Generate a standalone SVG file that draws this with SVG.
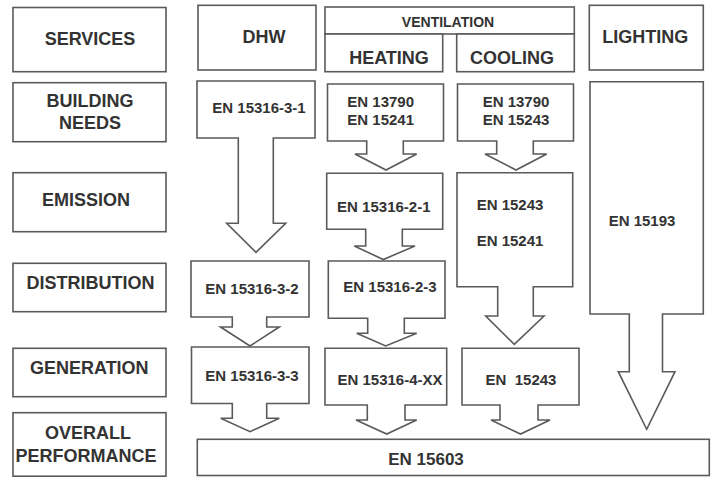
<svg xmlns="http://www.w3.org/2000/svg" width="715" height="477" viewBox="0 0 715 477">
<style>
.b{fill:#fff;stroke:#5a5a5a;stroke-width:1.6;stroke-linejoin:miter}
text{font-family:"Liberation Sans",Arial,sans-serif;font-weight:bold;fill:#333;text-anchor:middle}
.h{font-size:18px}
.e{font-size:15px}
.v{font-size:14px}
.p{font-size:17px}
</style>
<rect width="715" height="477" fill="#fff"/>
<g id="row-labels">
<g id="services"><rect class="b" x="13" y="7.5" width="153" height="64.2"/><text class="h" x="90" y="45">SERVICES</text></g>
<g id="building-needs"><rect class="b" x="13" y="82.7" width="153" height="59"/><text class="h" x="90" y="106.7">BUILDING</text><text class="h" x="90" y="129.3">NEEDS</text></g>
<g id="emission"><rect class="b" x="13" y="172.7" width="153" height="59"/><text class="h" x="86" y="205.7">EMISSION</text></g>
<g id="distribution"><rect class="b" x="13" y="263.3" width="153" height="48.4"/><text class="h" x="90.5" y="289.3">DISTRIBUTION</text></g>
<g id="generation"><rect class="b" x="13" y="348.3" width="153" height="48.4"/><text class="h" x="89.3" y="374.3">GENERATION</text></g>
<g id="overall-performance"><rect class="b" x="13" y="412.7" width="153" height="63.5"/><text class="h" x="88" y="439.3">OVERALL</text><text class="h" x="86" y="461.7">PERFORMANCE</text></g>
</g>
<g id="service-headers">
<g id="dhw"><rect class="b" x="198" y="5.3" width="118" height="64.7"/><text class="h" x="264" y="42.7">DHW</text></g>
<g id="ventilation"><rect class="b" x="325" y="7" width="249.3" height="27"/><text class="v" x="448" y="26.7">VENTILATION</text></g>
<g id="heating"><rect class="b" x="325" y="34" width="117.7" height="37.7"/><text class="h" x="389" y="63.5">HEATING</text></g>
<g id="cooling"><rect class="b" x="456.7" y="34" width="117.6" height="37.7"/><text class="h" x="512" y="63.5">COOLING</text></g>
<g id="lighting"><rect class="b" x="589.3" y="5.3" width="114" height="64.7"/><text class="h" x="645.3" y="42.7">LIGHTING</text></g>
</g>
<g id="dhw-needs"><path class="b" d="M197,81 H315 V138 H273.3 V223.3 H285.7 L256,252.3 L226.7,223.3 H238.3 V138 H197 Z"/><text class="e" x="259" y="113.3">EN 15316-3-1</text></g>
<g id="heating-needs"><path class="b" d="M327.5,84 H443.5 V141 H403.3 V154 H416.7 L386,170 L355,154 H366.7 V141 H327.5 Z"/><text class="e" x="380.7" y="107">EN 13790</text><text class="e" x="380.7" y="125">EN 15241</text></g>
<g id="cooling-needs"><path class="b" d="M457.5,84 H573.5 V141 H533.3 V154 H546.7 L516,170 L485,154 H496.7 V141 H457.5 Z"/><text class="e" x="516" y="107">EN 13790</text><text class="e" x="516" y="125">EN 15243</text></g>
<g id="heating-emission"><path class="b" d="M326.7,173.3 H442.7 V229.3 H402.3 V246 H415 L383.3,259.5 L354.3,246 H365.7 V229.3 H326.7 Z"/><text class="e" x="383.8" y="211.7">EN 15316-2-1</text></g>
<g id="cooling-emission"><path class="b" d="M457,172.7 H572.7 V286.7 H533.3 V316 H544 L514.3,344.3 L485.7,316 H497.7 V286.7 H457 Z"/><text class="e" x="510" y="210">EN 15243</text><text class="e" x="510" y="246">EN 15241</text></g>
<g id="lighting-all"><path class="b" d="M590,81.7 H703.3 V314 H662.5 V371.7 H675 L646.7,429.3 L618.3,371.7 H629.3 V314 H590 Z"/><text class="e" x="642" y="226">EN 15193</text></g>
<g id="dhw-distribution"><path class="b" d="M191,261 H309 V317 H266.7 V327 H279.3 L250,346 L220.5,327 H232.3 V317 H191 Z"/><text class="e" x="252" y="294">EN 15316-3-2</text></g>
<g id="heating-distribution"><path class="b" d="M328.3,261 H445 V318.3 H404.3 V333.3 H416.7 L385.7,346 L356.7,333.3 H367.7 V318.3 H328.3 Z"/><text class="e" x="390" y="291.7">EN 15316-2-3</text></g>
<g id="dhw-generation"><path class="b" d="M191.5,347 H309 V403.5 H266.7 V418.3 H279.3 L250,431.7 L220.7,418.3 H232.3 V403.5 H191.5 Z"/><text class="e" x="252" y="380.5">EN 15316-3-3</text></g>
<g id="heating-generation"><path class="b" d="M325,348.3 H446.7 V405 H405 V420 H416.7 L386.7,434 L356,420 H367.3 V405 H325 Z"/><text class="e" x="390" y="385">EN 15316-4-XX</text></g>
<g id="cooling-generation"><path class="b" d="M462,348.3 H579 V405 H538 V420 H550 L520.5,434 L491,420 H500 V405 H462 Z"/><text class="e" x="521" y="385" xml:space="preserve">EN  15243</text></g>
<g id="overall"><rect class="b" x="197.3" y="439.3" width="512" height="36.2"/><text class="p" x="426" y="465">EN 15603</text></g>
<g id="connectors"></g>
</svg>
